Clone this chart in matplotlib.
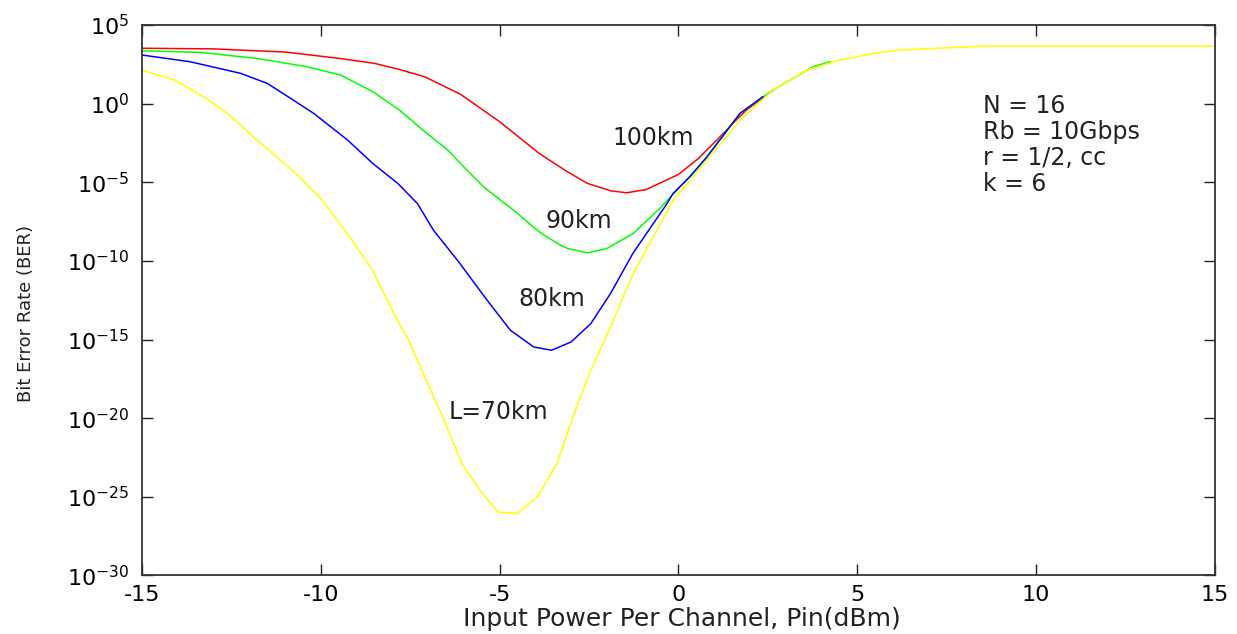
import matplotlib
matplotlib.use("Agg")
import matplotlib.pyplot as plt
import numpy as np

# BER curves, stored as log10(BER) against input power (dBm)
x_100 = [-15, -13, -11, -9.5, -8.5, -7.8, -7.1, -6.1, -5.0, -3.9, -3.1, -2.55,
         -1.9, -1.45, -0.9, 0.0, 0.55, 1.1, 1.7, 1.9, 2.65]
log_100 = [3.52, 3.48, 3.28, 2.88, 2.56, 2.17, 1.71, 0.6, -1.15, -3.16, -4.34, -5.07,
           -5.54, -5.67, -5.46, -4.5, -3.5, -2.25, -0.84, -0.41, 0.86]

x_90 = [-15, -13.4, -11.8, -10.4, -9.45, -8.55, -7.8, -7.15, -6.45, -6.1, -5.45,
        -4.5, -3.95, -3.8, -3.3, -3.1, -2.55, -2.0, -1.27, -0.52,
        0.13, 0.6, 0.8, 1.72, 2.64, 3.76, 4.24]
log_90 = [3.36, 3.26, 2.88, 2.35, 1.82, 0.76, -0.41, -1.68, -2.95, -3.8, -5.29,
          -6.98, -8.05, -8.3, -9.0, -9.21, -9.49, -9.21, -8.26, -6.66,
          -5.07, -3.91, -3.35, -0.62, 0.86, 2.35, 2.66]

x_80 = [-15, -13.65, -12.25, -11.5, -10.85, -10.2, -9.25, -8.55, -7.85, -7.3,
        -6.85, -6.15, -5.35, -4.7, -4.05, -3.55, -3.0, -2.45, -1.9, -1.27,
        -0.32, -0.15, 0.32, 0.8, 1.72, 2.36]
log_80 = [3.09, 2.66, 1.93, 1.29, 0.34, -0.62, -2.32, -3.8, -5.07, -6.35,
          -8.05, -10.05, -12.5, -14.41, -15.47, -15.68, -15.15, -13.98, -12.07, -9.5,
          -6.35, -5.71, -4.65, -3.38, -0.62, 0.44]

x_70 = [-15, -14.1, -13.2, -12.55, -12.0, -11.35, -10.6, -9.95, -9.2, -8.55, -8.0,
        -7.5, -6.95, -6.65, -6.05, -5.55, -5.05, -4.5, -3.95, -3.4, -2.95, -2.45,
        -1.9, -1.35, -1.08, -0.6, -0.15, 0.8, 1.72, 2.64, 3.59, 4.51, 4.79,
        5.44, 6.19, 7.23, 8.71, 15]
log_70 = [2.14, 1.5, 0.34, -0.73, -1.89, -3.16, -4.65, -6.14, -8.47, -10.59, -13.14,
          -15.26, -18.1, -19.6, -22.89, -24.59, -25.97, -26.04, -25.02, -22.89, -19.93, -16.95,
          -14.2, -11.23, -10.0, -8.05, -6.14, -3.59, -1.05, 0.86, 2.14, 2.77, 2.88,
          3.2, 3.41, 3.52, 3.66, 3.66]

series = [
    (x_100, log_100, "#ff0000"),
    (x_90, log_90, "#00ff00"),
    (x_80, log_80, "#0000ff"),
    (x_70, log_70, "#ffff00"),
]

curve_labels = [("100km", -1.86, -2.64), ("90km", -3.73, -7.92),
                ("80km", -4.49, -12.88), ("L=70km", -6.44, -20.07)]
params_text = "N = 16\nRb = 10Gbps\nr = 1/2, cc\nk = 6"

plt.rcParams["axes.unicode_minus"] = False
plt.rcParams["font.family"] = ["DejaVu Sans"]

fig = plt.figure(figsize=(12.37, 6.34), dpi=100)
ax = fig.add_axes([0.1148, 0.0923, 0.8674, 0.8683])

for xs, logs, color in series:
    ax.plot(xs, 10.0 ** np.array(logs), color=color, linewidth=1.1)

ax.set_yscale("log")
ax.set_xlim(-15, 15)
ax.set_ylim(1e-30, 1e5)
ax.set_xticks(range(-15, 16, 5))
ax.set_yticks([10.0 ** k for k in range(-30, 6, 5)])
ax.minorticks_off()
ax.tick_params(direction="in", top=True, right=True, length=8, width=1.0,
               color="#222222", labelsize=16, pad=7)
ax.tick_params(axis="y", pad=9)
for sp in ax.spines.values():
    sp.set_linewidth(1.3)
    sp.set_color("#333333")

for text, tx, ty in curve_labels:
    ax.text(tx, 10.0 ** ty, text, fontsize=17, color="#222222", va="baseline", ha="left")

ax.text(8.51, 10.0 ** 0.62, params_text, fontsize=17, color="#222222",
        va="top", ha="left", linespacing=1.1)

ax.set_xlabel("Input Power Per Channel, Pin(dBm)", fontsize=18, color="#222222")
ax.xaxis.set_label_coords(0.503, -0.058)
ax.xaxis.label.set_va("top")
ax.set_ylabel("Bit Error Rate (BER)", fontsize=13, color="#222222",
              family=["Liberation Sans Narrow", "DejaVu Sans"])
ax.yaxis.set_label_coords(-0.1, 0.476)

fig.savefig("out.png", dpi=100, facecolor="white")
